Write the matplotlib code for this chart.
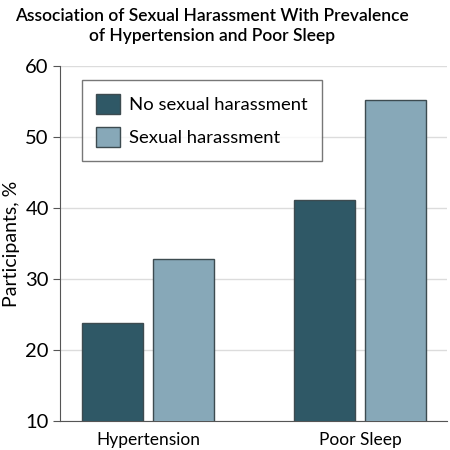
import numpy as np
import matplotlib
matplotlib.use("Agg")
import matplotlib.pyplot as plt
from matplotlib.patches import Patch

# data
categories = ["Hypertension", "Poor Sleep"]
no_harassment = [23.8, 41.1]
harassment = [32.8, 55.2]
series_labels = ["No sexual harassment", "Sexual harassment"]
yticks = [10, 20, 30, 40, 50, 60]

dark = "#2f5866"
light = "#87a8b8"
edge = "#3d4b50"

plt.rcParams["font.family"] = ["Lato", "DejaVu Sans"]

fig = plt.figure(figsize=(4.5, 4.5), dpi=100)
ax = fig.add_axes([0.1333, 0.0644, 0.860, 0.789])

x = np.arange(len(categories))
w = 0.288
off = 0.1675
ax.bar(x - off, no_harassment, w, bottom=0, color=dark, edgecolor=edge, linewidth=1, zorder=3)
ax.bar(x + off, harassment, w, bottom=0, color=light, edgecolor=edge, linewidth=1, zorder=3)

ax.set_ylim(10, 60)
ax.set_xlim(-0.415, 1.41)
ax.set_yticks(yticks)
ax.set_xticks(x)
ax.set_xticklabels(categories, fontsize=12.5)
ax.tick_params(axis="x", length=0, pad=8)
ax.tick_params(axis="y", labelsize=14.5, length=5, color="#555555", pad=3)
ax.grid(axis="y", color="#dcdcdc", linewidth=1, zorder=0)
for s in ["top", "right"]:
    ax.spines[s].set_visible(False)
for s in ["left", "bottom"]:
    ax.spines[s].set_color("#555555")
ax.set_ylabel("Participants, %", fontsize=14, labelpad=4)

handles = [Patch(facecolor=dark, edgecolor=edge), Patch(facecolor=light, edgecolor=edge)]
leg = ax.legend(handles, series_labels, loc="upper left", bbox_to_anchor=(0.057, 0.96),
                borderaxespad=0, fontsize=13.3, frameon=True, fancybox=False,
                edgecolor="#555555", handlelength=1.3, handleheight=1.3,
                borderpad=0.75, labelspacing=0.7, handletextpad=0.5)
leg.get_frame().set_linewidth(1)

fig.text(212 / 450, 1 - 26 / 450,
         "Association of Sexual Harassment With Prevalence\nof Hypertension and Poor Sleep",
         ha="center", va="center", fontsize=12.5, fontweight="semibold", linespacing=1.3)

fig.savefig("out.png", dpi=100)
